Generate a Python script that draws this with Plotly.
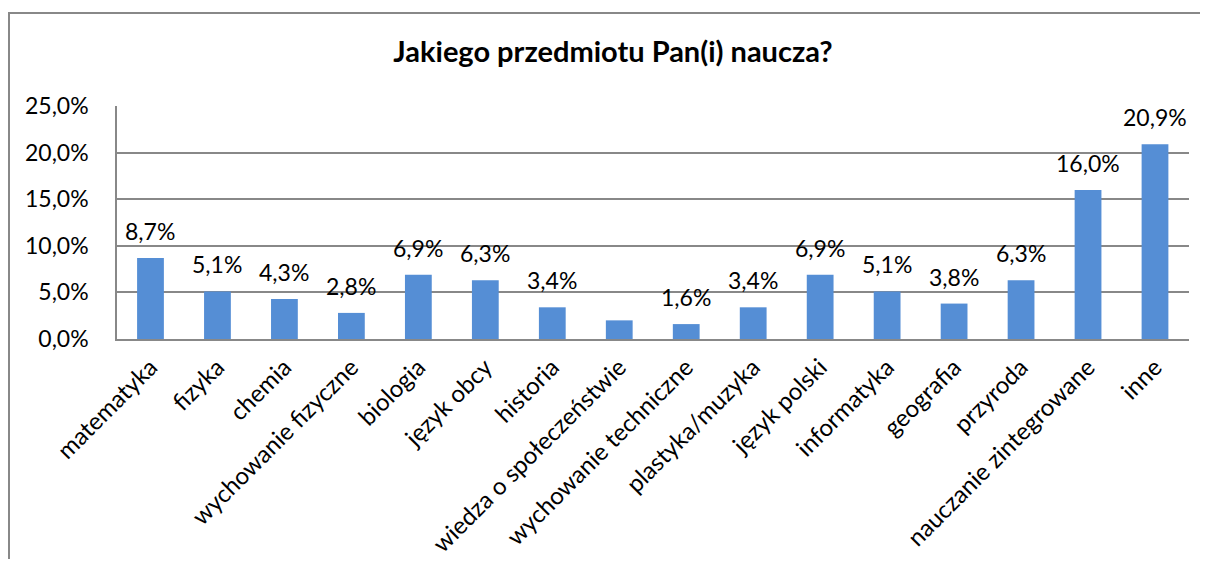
import plotly.graph_objects as go

categories = ["matematyka", "fizyka", "chemia", "wychowanie fizyczne", "biologia",
              "język obcy", "historia", "wiedza o społeczeństwie", "wychowanie techniczne",
              "plastyka/muzyka", "język polski", "informatyka", "geografia", "przyroda",
              "nauczanie zintegrowane", "inne"]
values = [8.7, 5.1, 4.3, 2.8, 6.9, 6.3, 3.4, 2.0, 1.6, 3.4, 6.9, 5.1, 3.8, 6.3, 16.0, 20.9]
show_label = [True] * 16
show_label[7] = False
tick_values = [0, 5, 10, 15, 20, 25]
tick_labels = ["0,0%", "5,0%", "10,0%", "15,0%", "20,0%", "25,0%"]

labels = [(f"{v:.1f}".replace(".", ",") + "%") if s else "" for v, s in zip(values, show_label)]

FONT = "Lato"
OFF = 8  # page body margin offset
W, H = 1208 - 2 * OFF, 577 - 2 * OFF - 10
L, R, T = 117 - OFF, 1208 - OFF - 1189, 106 - OFF
B = H - (339 - OFF)
pw, ph = W - L - R, H - T - B

def px(x):
    return (x - OFF - L) / pw

def py(y):
    return (H - B - (y - OFF)) / ph

fig = go.Figure(go.Bar(
    x=categories, y=values,
    marker=dict(color="#558ed5", line=dict(width=0)),
    cliponaxis=False, hoverinfo="x+y",
))

for c, v, t in zip(categories, values, labels):
    if t:
        fig.add_annotation(x=c, y=v, text=t, showarrow=False, yanchor="bottom", yshift=11,
                           font=dict(family=FONT, size=23, color="black"))

fig.update_layout(
    width=W, height=H,
    margin=dict(l=L, r=R, t=T, b=B, autoexpand=False),
    paper_bgcolor="white", plot_bgcolor="white",
    bargap=0.6, showlegend=False,
    title=dict(text="<b>Jakiego przedmiotu Pan(i) naucza?</b>", x=(613 - OFF) / W, xanchor="center",
               y=1 - (52 - OFF) / H, yanchor="middle",
               font=dict(family=FONT, size=29, color="black")),
    font=dict(family=FONT, color="black"),
    shapes=[
        dict(type="rect", xref="paper", yref="paper", x0=px(9), x1=px(1300), y0=py(13), y1=py(700),
             line=dict(color="#888888", width=2), fillcolor="rgba(0,0,0,0)", layer="below"),
    ],
)
fig.update_xaxes(tickangle=-45, tickfont=dict(family=FONT, size=24, color="black"),
                 showline=True, linecolor="#888888", linewidth=1.5, ticks="", showgrid=False,
                 ticklabelstandoff=3, automargin=False)
fig.update_yaxes(range=[0, 25], tickvals=tick_values, ticktext=tick_labels,
                 tickfont=dict(family=FONT, size=23, color="black"),
                 showgrid=True, gridcolor="#888888", gridwidth=1.5,
                 showline=True, linecolor="#888888", linewidth=1.5, ticks="",
                 ticklabelstandoff=22, zeroline=False, automargin=False)

fig.write_html("out.html")
